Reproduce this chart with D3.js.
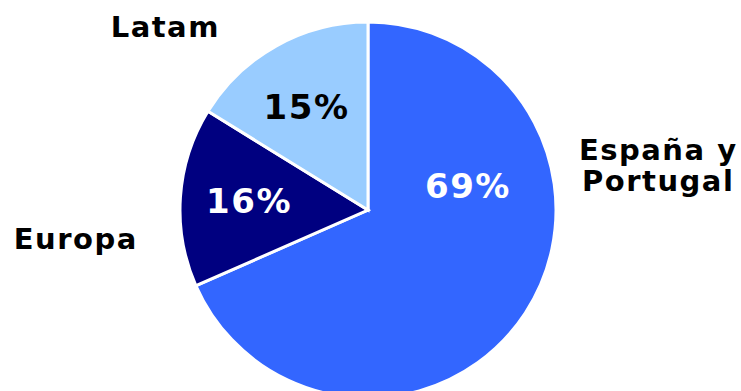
<!DOCTYPE html>
<html>
<head>
<meta charset="utf-8">
<script src="https://cdn.jsdelivr.net/npm/d3@7"></script>
<style>
  body { margin: 0; background: #fff; }
  text { font-family: "DejaVu Sans", Verdana, sans-serif; font-weight: bold; }
</style>
</head>
<body>
<div id="chart"></div>
<script>
// DATA //
const categories = ["España y Portugal", "Europa", "Latam"];
const shares = [68.4, 15.4, 16.2];          // slice sizes
const pctLabels = ["69%", "16%", "15%"];    // printed labels
const sliceColors = ["#3366FF", "#000080", "#99CCFF"];
const pctColors = ["#fff", "#fff", "#000"];

// label placement, baseline offsets from pie centre (px)
const pctOffset = [[99.5, -12], [-119.5, 3], [-62, -91]];
const catOffset = [[289.5, -50], [-293, 39], [-203.5, -173]];

// DIMENSIONS //
const width = 741, height = 391;
const cx = 368, cy = 210, radius = 188;

const svg = d3.select("#chart")
  .append("svg")
  .attr("width", width)
  .attr("height", height);

const g = svg.append("g")
  .attr("transform", `translate(${cx},${cy})`);

const pie = d3.pie().sort(null).value(d => d)(shares);
const arc = d3.arc().innerRadius(0).outerRadius(radius);

// slices
g.selectAll("path.slice")
  .data(pie)
  .enter()
  .append("path")
  .attr("class", "slice")
  .attr("d", arc)
  .attr("fill", (d, i) => sliceColors[i])
  .attr("stroke", "#fff")
  .attr("stroke-width", 3)
  .attr("stroke-linejoin", "miter");

// percentage labels
g.selectAll("text.pct")
  .data(pie)
  .enter()
  .append("text")
  .attr("class", "pct")
  .attr("x", (d, i) => pctOffset[i][0])
  .attr("y", (d, i) => pctOffset[i][1])
  .attr("dx", 0.5)
  .attr("text-anchor", "middle")
  .style("font-size", "34px")
  .style("letter-spacing", "1.5px")
  .style("fill", (d, i) => pctColors[i])
  .text((d, i) => pctLabels[i]);

// category labels (España y Portugal is split on two lines)
const catText = g.selectAll("text.cat")
  .data(categories)
  .enter()
  .append("text")
  .attr("class", "cat")
  .attr("text-anchor", "middle")
  .attr("x", (d, i) => catOffset[i][0])
  .attr("y", (d, i) => catOffset[i][1])
  .style("font-size", "29px")
  .style("letter-spacing", "1.5px")
  .style("fill", "#000");

catText.each(function(d, i) {
  const lines = i === 0 ? ["España y", "Portugal"] : [d];
  d3.select(this).selectAll("tspan")
    .data(lines)
    .enter()
    .append("tspan")
    .attr("x", catOffset[i][0] + 0.75)
    .attr("dy", (l, j) => j === 0 ? 0 : 31)
    .text(l => l);
});
</script>
</body>
</html>
